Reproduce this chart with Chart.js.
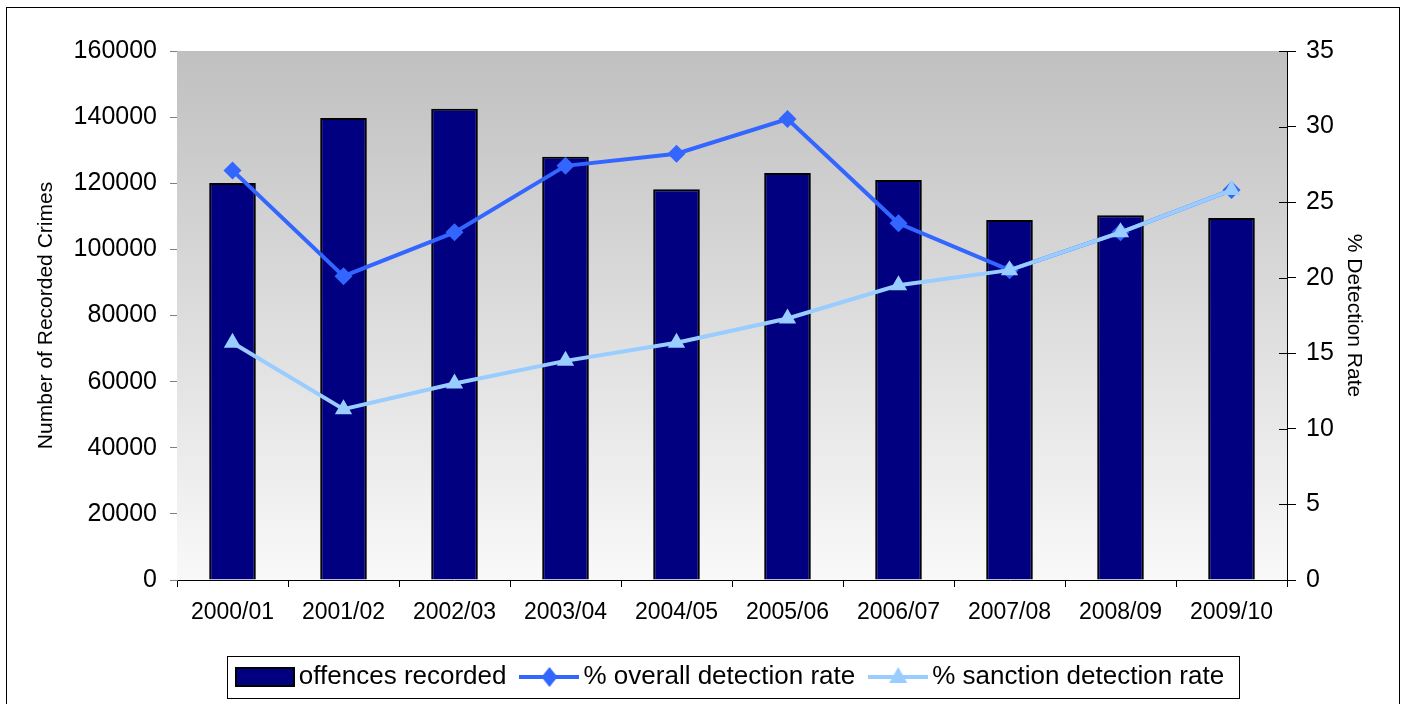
<!DOCTYPE html>
<html>
<head>
<meta charset="utf-8">
<script src="https://cdn.jsdelivr.net/npm/chart.js@4.4.1/dist/chart.umd.min.js"></script>
<style>
  html, body { margin: 0; padding: 0; background: #fff; }
  #wrap { position: relative; width: 1406px; height: 704px; overflow: hidden; }
  #frame { position: absolute; left: 6px; top: 7px; width: 1394px; height: 720px; border: 1px solid #000; box-sizing: border-box; }
  canvas { position: absolute; left: 0; top: 0; }
</style>
</head>
<body>
<div id="wrap">
  <div id="frame"></div>
  <canvas id="myChart" width="1406" height="704"></canvas>
</div>
<script>
var years = ["2000/01", "2001/02", "2002/03", "2003/04", "2004/05", "2005/06", "2006/07", "2007/08", "2008/09", "2009/10"];
var offences = [120100, 139700, 142500, 128000, 118200, 123100, 121000, 108900, 110300, 109500];
var overallRate = [27.1, 20.1, 23.0, 27.4, 28.2, 30.5, 23.6, 20.5, 23.0, 25.8];
var sanctionRate = [15.7, 11.3, 13.0, 14.5, 15.7, 17.3, 19.5, 20.5, 23.0, 25.8];
var seriesNames = ["offences recorded", "% overall detection rate", "% sanction detection rate"];

var fontName = "'Liberation Sans', Arial, sans-serif";
var navy = "#000080";
var overallColor = "#3366ff";
var sanctionColor = "#99ccff";

// small canvases used as legend markers (line + marker like the original)
function makeMarker(kind) {
  var c = document.createElement("canvas");
  c.width = 60;
  c.height = 26;
  var g = c.getContext("2d");
  if (kind === "bar") {
    g.fillStyle = navy;
    g.fillRect(1, 4, 58, 18);
    g.strokeStyle = "#000";
    g.lineWidth = 2;
    g.strokeRect(1, 4, 58, 18);
    return c;
  }
  var col = kind === "diamond" ? overallColor : sanctionColor;
  g.strokeStyle = col;
  g.lineWidth = 4;
  g.beginPath();
  g.moveTo(0, 13);
  g.lineTo(60, 13);
  g.stroke();
  g.fillStyle = col;
  g.beginPath();
  if (kind === "diamond") {
    g.moveTo(30, 3);
    g.lineTo(38, 13);
    g.lineTo(30, 23);
    g.lineTo(22, 13);
  } else {
    g.moveTo(30, 3);
    g.lineTo(39, 19);
    g.lineTo(21, 19);
  }
  g.closePath();
  g.fill();
  return c;
}
var markers = [makeMarker("bar"), makeMarker("diamond"), makeMarker("triangle")];

var plotBackground = {
  id: "plotBackground",
  beforeDatasetsDraw: function (chart) {
    var a = chart.chartArea;
    var ctx = chart.ctx;
    var grad = ctx.createLinearGradient(0, a.top, 0, a.bottom);
    grad.addColorStop(0, "#c0c0c0");
    grad.addColorStop(1, "#f9f9f9");
    ctx.save();
    ctx.fillStyle = grad;
    ctx.fillRect(a.left, a.top, a.right - a.left, a.bottom - a.top);
    ctx.restore();
  },
  afterDraw: function (chart) {
    // right axis tick marks cross the axis line in the original
    var s = chart.scales.y1;
    var ctx = chart.ctx;
    ctx.save();
    ctx.strokeStyle = "#000";
    ctx.lineWidth = 1;
    s.ticks.forEach(function (t) {
      var py = Math.round(s.getPixelForValue(t.value)) + 0.5;
      ctx.beginPath();
      ctx.moveTo(s.left - 8, py);
      ctx.lineTo(s.left, py);
      ctx.stroke();
    });
    ctx.restore();
  },
};

var legendFrame = {
  id: "legendFrame",
  afterLayout: function (chart) {
    // original legend sits a bit right of centre
    chart.legend.left += 36;
    chart.legend.right += 36;
  },
  afterDraw: function (chart) {
    var boxes = chart.legend.legendHitBoxes;
    if (!boxes || !boxes.length) return;
    var l = Infinity, r = -Infinity, t = Infinity, b = -Infinity;
    boxes.forEach(function (hb) {
      l = Math.min(l, hb.left);
      r = Math.max(r, hb.left + hb.width);
      t = Math.min(t, hb.top);
      b = Math.max(b, hb.top + hb.height);
    });
    var ctx = chart.ctx;
    ctx.save();
    ctx.strokeStyle = "#000";
    ctx.lineWidth = 1;
    ctx.strokeRect(Math.round(l - 17) + 0.5, Math.round(t - 8) + 0.5, Math.round(r - l + 32), Math.round(b - t + 16));
    ctx.restore();
  },
};

var ctx = document.getElementById("myChart").getContext("2d");

var myChart = new Chart(ctx, {
  type: "bar",
  data: {
    labels: years,
    datasets: [
      {
        type: "bar",
        label: seriesNames[0],
        data: offences,
        yAxisID: "y",
        backgroundColor: navy,
        borderColor: "#000",
        borderWidth: 2,
        barPercentage: 0.42,
        categoryPercentage: 1,
        order: 3,
      },
      {
        type: "line",
        label: seriesNames[1],
        data: overallRate,
        yAxisID: "y1",
        borderColor: overallColor,
        backgroundColor: overallColor,
        borderWidth: 4,
        pointStyle: "rectRot",
        pointRadius: 9,
        pointBorderWidth: 0,
        tension: 0,
        order: 2,
      },
      {
        type: "line",
        label: seriesNames[2],
        data: sanctionRate,
        yAxisID: "y1",
        borderColor: sanctionColor,
        backgroundColor: sanctionColor,
        borderWidth: 4,
        pointStyle: "triangle",
        pointRadius: 10,
        pointBorderWidth: 0,
        tension: 0,
        order: 1,
      },
    ],
  },
  options: {
    responsive: false,
    animation: false,
    layout: {
      padding: { left: 30, right: 40, top: 51, bottom: 4 },
    },
    plugins: {
      tooltip: { enabled: false },
      legend: {
        position: "bottom",
        labels: {
          usePointStyle: true,
          pointStyleWidth: 42,
          padding: 22,
          color: "#000",
          font: { family: fontName, size: 26 },
          generateLabels: function (chart) {
            return seriesNames.map(function (name, i) {
              return {
                text: name,
                pointStyle: markers[i],
                datasetIndex: i,
                fontColor: "#000",
                lineWidth: 0,
              };
            });
          },
        },
      },
    },
    scales: {
      x: {
        afterFit: function (scale) {
          scale.height = 62;
        },
        grid: {
          display: true,
          drawOnChartArea: false,
          drawTicks: true,
          tickLength: 7,
          color: "#000",
        },
        border: { display: true, color: "#000" },
        ticks: {
          color: "#000",
          padding: 12,
          maxRotation: 0,
          font: { family: fontName, size: 23 },
        },
      },
      y: {
        position: "left",
        min: 0,
        max: 160000,
        afterFit: function (scale) {
          scale.width = 147;
        },
        grid: {
          drawOnChartArea: false,
          tickLength: 7,
          color: "#808080",
        },
        border: { display: true, color: "#707070" },
        ticks: {
          stepSize: 20000,
          color: "#000",
          padding: 13,
          font: { family: fontName, size: 25 },
          callback: function (v) {
            return String(v);
          },
        },
        title: {
          display: true,
          text: "Number of Recorded Crimes",
          color: "#000",
          padding: { top: 4, bottom: 0 },
          font: { family: fontName, size: 21 },
        },
      },
      y1: {
        position: "right",
        min: 0,
        max: 35,
        afterFit: function (scale) {
          scale.width = 79;
        },
        grid: {
          drawOnChartArea: false,
          tickLength: 9,
          color: "#000",
        },
        border: { display: true, color: "#000" },
        ticks: {
          stepSize: 5,
          color: "#000",
          padding: 10,
          font: { family: fontName, size: 25 },
        },
        title: {
          display: true,
          text: "% Detection Rate",
          color: "#000",
          padding: { top: 0, bottom: 0 },
          font: { family: fontName, size: 21 },
        },
      },
    },
  },
  plugins: [plotBackground, legendFrame],
});
</script>
</body>
</html>
